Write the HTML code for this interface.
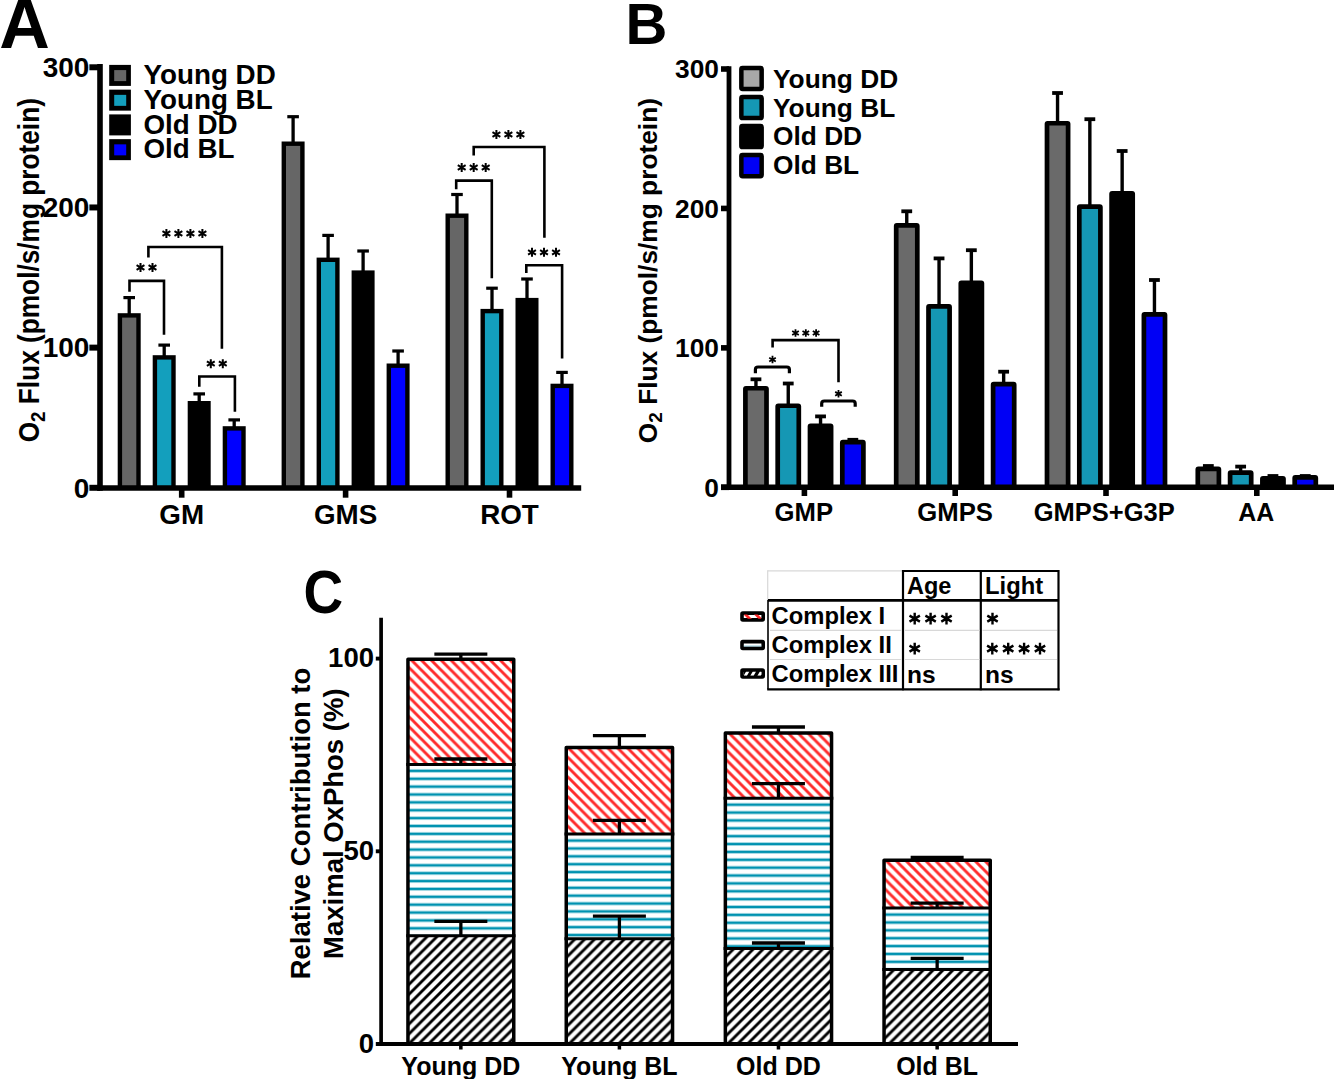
<!DOCTYPE html><html><head><meta charset="utf-8"><style>html,body{margin:0;padding:0;background:#fff;}svg{display:block;}</style></head><body>
<svg width="1340" height="1079" viewBox="0 0 1340 1079">
<defs>
<g id="sA"><path d="M0,-4.45V4.45M-3.93,-2.27L3.93,2.27M-3.93,2.27L3.93,-2.27" stroke="#000" stroke-width="2.0" fill="none"/><circle r="1.20" fill="#000"/></g>
<g id="sB"><path d="M0,-3.75V3.75M-3.31,-1.91L3.31,1.91M-3.31,1.91L3.31,-1.91" stroke="#000" stroke-width="1.8" fill="none"/><circle r="1.08" fill="#000"/></g>
<g id="sT"><path d="M0,-5.9V5.9M-5.21,-3.01L5.21,3.01M-5.21,3.01L5.21,-3.01" stroke="#000" stroke-width="2.4" fill="none"/><circle r="1.44" fill="#000"/></g>
<pattern id="pRed0" patternUnits="userSpaceOnUse" width="9.85" height="9.85" patternTransform="translate(-2.4,0)"><path d="M-2,-2L11.85,11.85M-2,7.85L2,11.85M7.85,-2L11.85,2" stroke="#ff2b2b" stroke-width="2.9"/></pattern>
<pattern id="pRed1" patternUnits="userSpaceOnUse" width="9.85" height="9.85" patternTransform="translate(-2.3,0)"><path d="M-2,-2L11.85,11.85M-2,7.85L2,11.85M7.85,-2L11.85,2" stroke="#ff2b2b" stroke-width="2.9"/></pattern>
<pattern id="pRed2" patternUnits="userSpaceOnUse" width="9.85" height="9.85" patternTransform="translate(-4.0,0)"><path d="M-2,-2L11.85,11.85M-2,7.85L2,11.85M7.85,-2L11.85,2" stroke="#ff2b2b" stroke-width="2.9"/></pattern>
<pattern id="pRed3" patternUnits="userSpaceOnUse" width="9.85" height="9.85" patternTransform="translate(-4.0,0)"><path d="M-2,-2L11.85,11.85M-2,7.85L2,11.85M7.85,-2L11.85,2" stroke="#ff2b2b" stroke-width="2.9"/></pattern>
<pattern id="pTeal0" patternUnits="userSpaceOnUse" width="20" height="7.87" patternTransform="translate(0,766.965)"><rect x="0" y="2.585" width="20" height="2.7" fill="#0092b0"/></pattern>
<pattern id="pTeal1" patternUnits="userSpaceOnUse" width="20" height="7.87" patternTransform="translate(0,836.665)"><rect x="0" y="2.585" width="20" height="2.7" fill="#0092b0"/></pattern>
<pattern id="pTeal2" patternUnits="userSpaceOnUse" width="20" height="7.87" patternTransform="translate(0,800.765)"><rect x="0" y="2.585" width="20" height="2.7" fill="#0092b0"/></pattern>
<pattern id="pTeal3" patternUnits="userSpaceOnUse" width="20" height="7.87" patternTransform="translate(0,910.665)"><rect x="0" y="2.585" width="20" height="2.7" fill="#0092b0"/></pattern>
<pattern id="pBlk0" patternUnits="userSpaceOnUse" width="9.9" height="9.9" patternTransform="translate(-2.5,0)"><path d="M-2,11.9L11.9,-2M-2,2L2,-2M7.9,11.9L11.9,7.9" stroke="#000" stroke-width="2.85"/></pattern>
<pattern id="pBlk1" patternUnits="userSpaceOnUse" width="9.9" height="9.9" patternTransform="translate(-0.7,0)"><path d="M-2,11.9L11.9,-2M-2,2L2,-2M7.9,11.9L11.9,7.9" stroke="#000" stroke-width="2.85"/></pattern>
<pattern id="pBlk2" patternUnits="userSpaceOnUse" width="9.9" height="9.9" patternTransform="translate(-0.4,0)"><path d="M-2,11.9L11.9,-2M-2,2L2,-2M7.9,11.9L11.9,7.9" stroke="#000" stroke-width="2.85"/></pattern>
<pattern id="pBlk3" patternUnits="userSpaceOnUse" width="9.9" height="9.9" patternTransform="translate(2.5,0)"><path d="M-2,11.9L11.9,-2M-2,2L2,-2M7.9,11.9L11.9,7.9" stroke="#000" stroke-width="2.85"/></pattern>
</defs>
<rect width="1340" height="1079" fill="#fff"/>
<text x="-0.7" y="48" font-family="Liberation Sans" font-weight="bold" font-size="70" text-anchor="start" >A</text>
<line x1="129.2" y1="297.6" x2="129.2" y2="314.2" stroke="#000" stroke-width="3.3" stroke-linecap="butt"/>
<line x1="123.39999999999999" y1="297.6" x2="135.0" y2="297.6" stroke="#000" stroke-width="3.2" stroke-linecap="butt"/>
<rect x="117.70" y="313.20" width="23.00" height="174.80" fill="#000" />
<rect x="122.10" y="317.60" width="14.20" height="170.40" fill="#666666" />
<line x1="164.2" y1="345.1" x2="164.2" y2="356.2" stroke="#000" stroke-width="3.3" stroke-linecap="butt"/>
<line x1="158.39999999999998" y1="345.1" x2="170.0" y2="345.1" stroke="#000" stroke-width="3.2" stroke-linecap="butt"/>
<rect x="152.70" y="355.20" width="23.00" height="132.80" fill="#000" />
<rect x="157.10" y="359.60" width="14.20" height="128.40" fill="#139fbd" />
<line x1="199.2" y1="393.9" x2="199.2" y2="402.0" stroke="#000" stroke-width="3.3" stroke-linecap="butt"/>
<line x1="193.39999999999998" y1="393.9" x2="205.0" y2="393.9" stroke="#000" stroke-width="3.2" stroke-linecap="butt"/>
<rect x="187.70" y="401.00" width="23.00" height="87.00" fill="#000" />
<line x1="234.2" y1="419.9" x2="234.2" y2="427.2" stroke="#000" stroke-width="3.3" stroke-linecap="butt"/>
<line x1="228.39999999999998" y1="419.9" x2="240.0" y2="419.9" stroke="#000" stroke-width="3.2" stroke-linecap="butt"/>
<rect x="222.70" y="426.20" width="23.00" height="61.80" fill="#000" />
<rect x="227.10" y="430.60" width="14.20" height="57.40" fill="#0000ff" />
<line x1="293.1" y1="116.7" x2="293.1" y2="142.5" stroke="#000" stroke-width="3.3" stroke-linecap="butt"/>
<line x1="287.3" y1="116.7" x2="298.90000000000003" y2="116.7" stroke="#000" stroke-width="3.2" stroke-linecap="butt"/>
<rect x="281.60" y="141.50" width="23.00" height="346.50" fill="#000" />
<rect x="286.00" y="145.90" width="14.20" height="342.10" fill="#666666" />
<line x1="328.1" y1="235.4" x2="328.1" y2="258.6" stroke="#000" stroke-width="3.3" stroke-linecap="butt"/>
<line x1="322.3" y1="235.4" x2="333.90000000000003" y2="235.4" stroke="#000" stroke-width="3.2" stroke-linecap="butt"/>
<rect x="316.60" y="257.60" width="23.00" height="230.40" fill="#000" />
<rect x="321.00" y="262.00" width="14.20" height="226.00" fill="#139fbd" />
<line x1="363.1" y1="251.0" x2="363.1" y2="271.4" stroke="#000" stroke-width="3.3" stroke-linecap="butt"/>
<line x1="357.3" y1="251.0" x2="368.90000000000003" y2="251.0" stroke="#000" stroke-width="3.2" stroke-linecap="butt"/>
<rect x="351.60" y="270.40" width="23.00" height="217.60" fill="#000" />
<line x1="398.1" y1="351.0" x2="398.1" y2="364.5" stroke="#000" stroke-width="3.3" stroke-linecap="butt"/>
<line x1="392.3" y1="351.0" x2="403.90000000000003" y2="351.0" stroke="#000" stroke-width="3.2" stroke-linecap="butt"/>
<rect x="386.60" y="363.50" width="23.00" height="124.50" fill="#000" />
<rect x="391.00" y="367.90" width="14.20" height="120.10" fill="#0000ff" />
<line x1="457.0" y1="194.5" x2="457.0" y2="214.5" stroke="#000" stroke-width="3.3" stroke-linecap="butt"/>
<line x1="451.2" y1="194.5" x2="462.8" y2="194.5" stroke="#000" stroke-width="3.2" stroke-linecap="butt"/>
<rect x="445.50" y="213.50" width="23.00" height="274.50" fill="#000" />
<rect x="449.90" y="217.90" width="14.20" height="270.10" fill="#666666" />
<line x1="492.0" y1="288.2" x2="492.0" y2="309.9" stroke="#000" stroke-width="3.3" stroke-linecap="butt"/>
<line x1="486.2" y1="288.2" x2="497.8" y2="288.2" stroke="#000" stroke-width="3.2" stroke-linecap="butt"/>
<rect x="480.50" y="308.90" width="23.00" height="179.10" fill="#000" />
<rect x="484.90" y="313.30" width="14.20" height="174.70" fill="#139fbd" />
<line x1="527.0" y1="279.0" x2="527.0" y2="298.9" stroke="#000" stroke-width="3.3" stroke-linecap="butt"/>
<line x1="521.2" y1="279.0" x2="532.8" y2="279.0" stroke="#000" stroke-width="3.2" stroke-linecap="butt"/>
<rect x="515.50" y="297.90" width="23.00" height="190.10" fill="#000" />
<line x1="562.0" y1="372.4" x2="562.0" y2="384.7" stroke="#000" stroke-width="3.3" stroke-linecap="butt"/>
<line x1="556.2" y1="372.4" x2="567.8" y2="372.4" stroke="#000" stroke-width="3.2" stroke-linecap="butt"/>
<rect x="550.50" y="383.70" width="23.00" height="104.30" fill="#000" />
<rect x="554.90" y="388.10" width="14.20" height="99.90" fill="#0000ff" />
<line x1="100" y1="64.1" x2="100" y2="490.7" stroke="#000" stroke-width="5.6" stroke-linecap="butt"/>
<line x1="97.2" y1="488" x2="581.2" y2="488" stroke="#000" stroke-width="5.4" stroke-linecap="butt"/>
<line x1="89.4" y1="67.29000000000002" x2="100" y2="67.29000000000002" stroke="#000" stroke-width="6" stroke-linecap="butt"/>
<text x="89.45" y="76.99000000000002" font-family="Liberation Sans" font-weight="bold" font-size="28" text-anchor="end" >300</text>
<line x1="89.4" y1="207.46000000000004" x2="100" y2="207.46000000000004" stroke="#000" stroke-width="6" stroke-linecap="butt"/>
<text x="89.45" y="217.16000000000003" font-family="Liberation Sans" font-weight="bold" font-size="28" text-anchor="end" >200</text>
<line x1="89.4" y1="347.63" x2="100" y2="347.63" stroke="#000" stroke-width="6" stroke-linecap="butt"/>
<text x="89.45" y="357.33" font-family="Liberation Sans" font-weight="bold" font-size="28" text-anchor="end" >100</text>
<line x1="89.4" y1="487.8" x2="100" y2="487.8" stroke="#000" stroke-width="6" stroke-linecap="butt"/>
<text x="89.45" y="497.5" font-family="Liberation Sans" font-weight="bold" font-size="28" text-anchor="end" >0</text>
<line x1="181.7" y1="488" x2="181.7" y2="497.7" stroke="#000" stroke-width="5.6" stroke-linecap="butt"/>
<text x="181.7" y="523.7" font-family="Liberation Sans" font-weight="bold" font-size="27.8" text-anchor="middle" >GM</text>
<line x1="345.6" y1="488" x2="345.6" y2="497.7" stroke="#000" stroke-width="5.6" stroke-linecap="butt"/>
<text x="345.6" y="523.7" font-family="Liberation Sans" font-weight="bold" font-size="27.8" text-anchor="middle" >GMS</text>
<line x1="509.5" y1="488" x2="509.5" y2="497.7" stroke="#000" stroke-width="5.6" stroke-linecap="butt"/>
<text x="509.5" y="523.7" font-family="Liberation Sans" font-weight="bold" font-size="27.8" text-anchor="middle" >ROT</text>
<rect x="109.20" y="64.90" width="21.70" height="21.00" fill="#000" />
<rect x="114.20" y="70.10" width="12.00" height="11.00" fill="#666666" />
<text x="143.5" y="84.1" font-family="Liberation Sans" font-weight="bold" font-size="27.8" text-anchor="start" >Young DD</text>
<rect x="109.20" y="89.65" width="21.70" height="21.00" fill="#000" />
<rect x="114.20" y="94.85" width="12.00" height="11.00" fill="#139fbd" />
<text x="143.5" y="108.85" font-family="Liberation Sans" font-weight="bold" font-size="27.8" text-anchor="start" >Young BL</text>
<rect x="109.20" y="114.40" width="21.70" height="21.00" fill="#000" />
<text x="143.5" y="133.6" font-family="Liberation Sans" font-weight="bold" font-size="27.8" text-anchor="start" >Old DD</text>
<rect x="109.20" y="139.15" width="21.70" height="21.00" fill="#000" />
<rect x="114.20" y="144.35" width="12.00" height="11.00" fill="#0000ff" />
<text x="143.5" y="158.35" font-family="Liberation Sans" font-weight="bold" font-size="27.8" text-anchor="start" >Old BL</text>
<text transform="translate(38.8,270.2) rotate(-90) scale(0.89,1)" font-family="Liberation Sans" font-weight="bold" font-size="29.5" text-anchor="middle">O<tspan font-size="21" dy="5.7">2</tspan><tspan dy="-5.7"> Flux (pmol/s/mg protein)</tspan></text>
<path d="M129.5,291.7V280.9H164.0V334.8" fill="none" stroke="#000" stroke-width="2.6" stroke-linejoin="miter"/>
<use href="#sA" x="140.50" y="267.50"/>
<use href="#sA" x="152.50" y="267.50"/>
<path d="M148.4,257.6V247.0H221.9V348.8" fill="none" stroke="#000" stroke-width="2.6" stroke-linejoin="miter"/>
<use href="#sA" x="166.40" y="233.50"/>
<use href="#sA" x="178.40" y="233.50"/>
<use href="#sA" x="190.40" y="233.50"/>
<use href="#sA" x="202.40" y="233.50"/>
<path d="M199.3,386.7V376.5H234.9V411.7" fill="none" stroke="#000" stroke-width="2.6" stroke-linejoin="miter"/>
<use href="#sA" x="210.80" y="363.70"/>
<use href="#sA" x="222.80" y="363.70"/>
<path d="M456.2,189.2V180.6H491.8V278.3" fill="none" stroke="#000" stroke-width="2.6" stroke-linejoin="miter"/>
<use href="#sA" x="461.70" y="167.50"/>
<use href="#sA" x="473.70" y="167.50"/>
<use href="#sA" x="485.70" y="167.50"/>
<path d="M473.7,155.4V147.0H544.4V237.8" fill="none" stroke="#000" stroke-width="2.6" stroke-linejoin="miter"/>
<use href="#sA" x="496.40" y="134.50"/>
<use href="#sA" x="508.40" y="134.50"/>
<use href="#sA" x="520.40" y="134.50"/>
<path d="M526.3,273.0V265.2H562.1V358.6" fill="none" stroke="#000" stroke-width="2.6" stroke-linejoin="miter"/>
<use href="#sA" x="532.00" y="252.30"/>
<use href="#sA" x="544.00" y="252.30"/>
<use href="#sA" x="556.00" y="252.30"/>
<text x="625.5" y="44.3" font-family="Liberation Sans" font-weight="bold" font-size="58" text-anchor="start" >B</text>
<line x1="755.9499999999999" y1="379.3" x2="755.9499999999999" y2="386.9" stroke="#000" stroke-width="3.4" stroke-linecap="butt"/>
<line x1="750.55" y1="379.3" x2="761.3499999999999" y2="379.3" stroke="#000" stroke-width="3.8" stroke-linecap="butt"/>
<rect x="745.40" y="388.25" width="21.10" height="99.05" rx="0.6" fill="#6a6a6a" stroke="#000" stroke-width="4.7" stroke-linejoin="round"/>
<line x1="788.25" y1="383.5" x2="788.25" y2="404.4" stroke="#000" stroke-width="3.4" stroke-linecap="butt"/>
<line x1="782.85" y1="383.5" x2="793.65" y2="383.5" stroke="#000" stroke-width="3.8" stroke-linecap="butt"/>
<rect x="777.70" y="405.75" width="21.10" height="81.55" rx="0.6" fill="#1597b4" stroke="#000" stroke-width="4.7" stroke-linejoin="round"/>
<line x1="820.55" y1="416.4" x2="820.55" y2="424.4" stroke="#000" stroke-width="3.4" stroke-linecap="butt"/>
<line x1="815.15" y1="416.4" x2="825.9499999999999" y2="416.4" stroke="#000" stroke-width="3.8" stroke-linecap="butt"/>
<rect x="810.00" y="425.75" width="21.10" height="61.55" rx="0.6" fill="#000" stroke="#000" stroke-width="4.7" stroke-linejoin="round"/>
<line x1="847.45" y1="439.8" x2="858.25" y2="439.8" stroke="#000" stroke-width="3.8" stroke-linecap="butt"/>
<rect x="842.30" y="442.15" width="21.10" height="45.15" rx="0.6" fill="#0000f5" stroke="#000" stroke-width="4.7" stroke-linejoin="round"/>
<line x1="906.75" y1="211.3" x2="906.75" y2="224.0" stroke="#000" stroke-width="3.4" stroke-linecap="butt"/>
<line x1="901.35" y1="211.3" x2="912.15" y2="211.3" stroke="#000" stroke-width="3.8" stroke-linecap="butt"/>
<rect x="896.20" y="225.35" width="21.10" height="261.95" rx="0.6" fill="#6a6a6a" stroke="#000" stroke-width="4.7" stroke-linejoin="round"/>
<line x1="939.0500000000001" y1="258.4" x2="939.0500000000001" y2="305.0" stroke="#000" stroke-width="3.4" stroke-linecap="butt"/>
<line x1="933.6500000000001" y1="258.4" x2="944.45" y2="258.4" stroke="#000" stroke-width="3.8" stroke-linecap="butt"/>
<rect x="928.50" y="306.35" width="21.10" height="180.95" rx="0.6" fill="#1597b4" stroke="#000" stroke-width="4.7" stroke-linejoin="round"/>
<line x1="971.35" y1="250.2" x2="971.35" y2="281.4" stroke="#000" stroke-width="3.4" stroke-linecap="butt"/>
<line x1="965.95" y1="250.2" x2="976.75" y2="250.2" stroke="#000" stroke-width="3.8" stroke-linecap="butt"/>
<rect x="960.80" y="282.75" width="21.10" height="204.55" rx="0.6" fill="#000" stroke="#000" stroke-width="4.7" stroke-linejoin="round"/>
<line x1="1003.6500000000001" y1="371.7" x2="1003.6500000000001" y2="382.7" stroke="#000" stroke-width="3.4" stroke-linecap="butt"/>
<line x1="998.2500000000001" y1="371.7" x2="1009.0500000000001" y2="371.7" stroke="#000" stroke-width="3.8" stroke-linecap="butt"/>
<rect x="993.10" y="384.05" width="21.10" height="103.25" rx="0.6" fill="#0000f5" stroke="#000" stroke-width="4.7" stroke-linejoin="round"/>
<line x1="1057.55" y1="93.0" x2="1057.55" y2="121.9" stroke="#000" stroke-width="3.4" stroke-linecap="butt"/>
<line x1="1052.1499999999999" y1="93.0" x2="1062.95" y2="93.0" stroke="#000" stroke-width="3.8" stroke-linecap="butt"/>
<rect x="1047.00" y="123.25" width="21.10" height="364.05" rx="0.6" fill="#6a6a6a" stroke="#000" stroke-width="4.7" stroke-linejoin="round"/>
<line x1="1089.85" y1="119.2" x2="1089.85" y2="205.3" stroke="#000" stroke-width="3.4" stroke-linecap="butt"/>
<line x1="1084.4499999999998" y1="119.2" x2="1095.25" y2="119.2" stroke="#000" stroke-width="3.8" stroke-linecap="butt"/>
<rect x="1079.30" y="206.65" width="21.10" height="280.65" rx="0.6" fill="#1597b4" stroke="#000" stroke-width="4.7" stroke-linejoin="round"/>
<line x1="1122.15" y1="151.0" x2="1122.15" y2="191.9" stroke="#000" stroke-width="3.4" stroke-linecap="butt"/>
<line x1="1116.75" y1="151.0" x2="1127.5500000000002" y2="151.0" stroke="#000" stroke-width="3.8" stroke-linecap="butt"/>
<rect x="1111.60" y="193.25" width="21.10" height="294.05" rx="0.6" fill="#000" stroke="#000" stroke-width="4.7" stroke-linejoin="round"/>
<line x1="1154.45" y1="280.0" x2="1154.45" y2="313.0" stroke="#000" stroke-width="3.4" stroke-linecap="butt"/>
<line x1="1149.05" y1="280.0" x2="1159.8500000000001" y2="280.0" stroke="#000" stroke-width="3.8" stroke-linecap="butt"/>
<rect x="1143.90" y="314.35" width="21.10" height="172.95" rx="0.6" fill="#0000f5" stroke="#000" stroke-width="4.7" stroke-linejoin="round"/>
<line x1="1202.9499999999998" y1="466.0" x2="1213.75" y2="466.0" stroke="#000" stroke-width="3.8" stroke-linecap="butt"/>
<rect x="1197.80" y="468.95" width="21.10" height="18.35" rx="0.6" fill="#6a6a6a" stroke="#000" stroke-width="4.7" stroke-linejoin="round"/>
<line x1="1240.6499999999999" y1="466.6" x2="1240.6499999999999" y2="471.3" stroke="#000" stroke-width="3.4" stroke-linecap="butt"/>
<line x1="1235.2499999999998" y1="466.6" x2="1246.05" y2="466.6" stroke="#000" stroke-width="3.8" stroke-linecap="butt"/>
<rect x="1230.10" y="472.65" width="21.10" height="14.65" rx="0.6" fill="#1597b4" stroke="#000" stroke-width="4.7" stroke-linejoin="round"/>
<line x1="1267.55" y1="476.0" x2="1278.3500000000001" y2="476.0" stroke="#000" stroke-width="3.8" stroke-linecap="butt"/>
<rect x="1262.40" y="478.25" width="21.10" height="9.05" rx="0.6" fill="#000" stroke="#000" stroke-width="4.7" stroke-linejoin="round"/>
<line x1="1299.85" y1="476.0" x2="1310.65" y2="476.0" stroke="#000" stroke-width="3.8" stroke-linecap="butt"/>
<rect x="1294.70" y="477.35" width="21.10" height="9.95" rx="0.6" fill="#0000f5" stroke="#000" stroke-width="4.7" stroke-linejoin="round"/>
<line x1="729" y1="66.2" x2="729" y2="490.0" stroke="#000" stroke-width="4.8" stroke-linecap="butt"/>
<line x1="721" y1="487.3" x2="1334" y2="487.3" stroke="#000" stroke-width="5.4" stroke-linecap="butt"/>
<line x1="721" y1="69.00999999999999" x2="729" y2="69.00999999999999" stroke="#000" stroke-width="5.6" stroke-linecap="butt"/>
<text x="718.9" y="78.21" font-family="Liberation Sans" font-weight="bold" font-size="26.3" text-anchor="end" >300</text>
<line x1="721" y1="208.44" x2="729" y2="208.44" stroke="#000" stroke-width="5.6" stroke-linecap="butt"/>
<text x="718.9" y="217.64" font-family="Liberation Sans" font-weight="bold" font-size="26.3" text-anchor="end" >200</text>
<line x1="721" y1="347.87" x2="729" y2="347.87" stroke="#000" stroke-width="5.6" stroke-linecap="butt"/>
<text x="718.9" y="357.07" font-family="Liberation Sans" font-weight="bold" font-size="26.3" text-anchor="end" >100</text>
<line x1="721" y1="487.3" x2="729" y2="487.3" stroke="#000" stroke-width="5.6" stroke-linecap="butt"/>
<text x="718.9" y="496.5" font-family="Liberation Sans" font-weight="bold" font-size="26.3" text-anchor="end" >0</text>
<line x1="804.4" y1="487.3" x2="804.4" y2="496" stroke="#000" stroke-width="5.6" stroke-linecap="butt"/>
<text x="803.8" y="521.3" font-family="Liberation Sans" font-weight="bold" font-size="25.7" text-anchor="middle" >GMP</text>
<line x1="955.2" y1="487.3" x2="955.2" y2="496" stroke="#000" stroke-width="5.6" stroke-linecap="butt"/>
<text x="955.2" y="521.3" font-family="Liberation Sans" font-weight="bold" font-size="25.7" text-anchor="middle" >GMPS</text>
<line x1="1106.0" y1="487.3" x2="1106.0" y2="496" stroke="#000" stroke-width="5.6" stroke-linecap="butt"/>
<text x="1104.3" y="521.3" font-family="Liberation Sans" font-weight="bold" font-size="25.5" text-anchor="middle" >GMPS+G3P</text>
<line x1="1256.8" y1="487.3" x2="1256.8" y2="496" stroke="#000" stroke-width="5.6" stroke-linecap="butt"/>
<text x="1256.3" y="521.3" font-family="Liberation Sans" font-weight="bold" font-size="24.9" text-anchor="middle" >AA</text>
<rect x="741.35" y="67.95" width="20.30" height="21.10" rx="1.2" fill="#a8a8a8" stroke="#000" stroke-width="4.5" stroke-linejoin="round"/>
<text x="773.0" y="87.9" font-family="Liberation Sans" font-weight="bold" font-size="26.3" text-anchor="start" >Young DD</text>
<rect x="741.35" y="96.98" width="20.30" height="21.10" rx="1.2" fill="#1597b4" stroke="#000" stroke-width="4.5" stroke-linejoin="round"/>
<text x="773.0" y="116.57000000000001" font-family="Liberation Sans" font-weight="bold" font-size="26.3" text-anchor="start" >Young BL</text>
<rect x="741.35" y="126.01" width="20.30" height="21.10" rx="1.2" fill="#000" stroke="#000" stroke-width="4.5" stroke-linejoin="round"/>
<text x="773.0" y="145.24" font-family="Liberation Sans" font-weight="bold" font-size="26.3" text-anchor="start" >Old DD</text>
<rect x="741.35" y="155.04" width="20.30" height="21.10" rx="1.2" fill="#0000f5" stroke="#000" stroke-width="4.5" stroke-linejoin="round"/>
<text x="773.0" y="173.91000000000003" font-family="Liberation Sans" font-weight="bold" font-size="26.3" text-anchor="start" >Old BL</text>
<text transform="translate(656.5,270.6) rotate(-90)" font-family="Liberation Sans" font-weight="bold" font-size="26.3" text-anchor="middle">O<tspan font-size="19" dy="5.5">2</tspan><tspan dy="-5.5"> Flux (pmol/s/mg protein)</tspan></text>
<path d="M755.4,373.3V369.60Q755.4,367.0 758.00,367.0H786.80Q789.4,367.0 789.4,369.60V373.3" fill="none" stroke="#000" stroke-width="3.2"/>
<use href="#sB" x="772.50" y="359.60"/>
<path d="M772.6,347.5V340.1H838.5V382.2" fill="none" stroke="#000" stroke-width="2.6" stroke-linejoin="miter"/>
<use href="#sB" x="795.50" y="333.00"/>
<use href="#sB" x="805.80" y="333.00"/>
<use href="#sB" x="816.10" y="333.00"/>
<path d="M821.7,406.7V403.60Q821.7,401.0 824.30,401.0H852.60Q855.2,401.0 855.2,403.60V406.7" fill="none" stroke="#000" stroke-width="3.2"/>
<use href="#sB" x="838.50" y="393.80"/>
<text transform="translate(303.6,612.6) scale(0.9,1)" font-family="Liberation Sans" font-weight="bold" font-size="61">C</text>
<rect x="407.70" y="659.30" width="106.30" height="105.10" fill="url(#pRed0)" />
<rect x="407.70" y="764.40" width="106.30" height="171.40" fill="url(#pTeal0)" />
<rect x="407.70" y="935.80" width="106.30" height="108.20" fill="url(#pBlk0)" />
<rect x="407.95" y="659.30" width="105.80" height="384.70" fill="none" stroke="#000" stroke-width="3.5" stroke-linejoin="round"/>
<line x1="406.2" y1="764.4" x2="515.5" y2="764.4" stroke="#000" stroke-width="3.0" stroke-linecap="butt"/>
<line x1="406.2" y1="935.8" x2="515.5" y2="935.8" stroke="#000" stroke-width="3.0" stroke-linecap="butt"/>
<line x1="460.85" y1="654.2" x2="460.85" y2="659.3" stroke="#000" stroke-width="3.3" stroke-linecap="butt"/>
<line x1="434.35" y1="654.2" x2="487.35" y2="654.2" stroke="#000" stroke-width="3.3" stroke-linecap="butt"/>
<line x1="460.85" y1="759.0" x2="460.85" y2="764.4" stroke="#000" stroke-width="3.3" stroke-linecap="butt"/>
<line x1="434.35" y1="759.0" x2="487.35" y2="759.0" stroke="#000" stroke-width="3.3" stroke-linecap="butt"/>
<line x1="460.85" y1="921.3" x2="460.85" y2="935.8" stroke="#000" stroke-width="3.3" stroke-linecap="butt"/>
<line x1="434.35" y1="921.3" x2="487.35" y2="921.3" stroke="#000" stroke-width="3.3" stroke-linecap="butt"/>
<rect x="566.00" y="747.50" width="106.80" height="86.60" fill="url(#pRed1)" />
<rect x="566.00" y="834.10" width="106.80" height="104.60" fill="url(#pTeal1)" />
<rect x="566.00" y="938.70" width="106.80" height="105.30" fill="url(#pBlk1)" />
<rect x="566.25" y="747.50" width="106.30" height="296.50" fill="none" stroke="#000" stroke-width="3.5" stroke-linejoin="round"/>
<line x1="564.5" y1="834.1" x2="674.3" y2="834.1" stroke="#000" stroke-width="3.0" stroke-linecap="butt"/>
<line x1="564.5" y1="938.7" x2="674.3" y2="938.7" stroke="#000" stroke-width="3.0" stroke-linecap="butt"/>
<line x1="619.4" y1="735.6" x2="619.4" y2="747.5" stroke="#000" stroke-width="3.3" stroke-linecap="butt"/>
<line x1="592.9" y1="735.6" x2="645.9" y2="735.6" stroke="#000" stroke-width="3.3" stroke-linecap="butt"/>
<line x1="619.4" y1="820.3" x2="619.4" y2="834.1" stroke="#000" stroke-width="3.3" stroke-linecap="butt"/>
<line x1="592.9" y1="820.3" x2="645.9" y2="820.3" stroke="#000" stroke-width="3.3" stroke-linecap="butt"/>
<line x1="619.4" y1="916.2" x2="619.4" y2="938.7" stroke="#000" stroke-width="3.3" stroke-linecap="butt"/>
<line x1="592.9" y1="916.2" x2="645.9" y2="916.2" stroke="#000" stroke-width="3.3" stroke-linecap="butt"/>
<rect x="725.10" y="732.90" width="106.70" height="65.30" fill="url(#pRed2)" />
<rect x="725.10" y="798.20" width="106.70" height="150.20" fill="url(#pTeal2)" />
<rect x="725.10" y="948.40" width="106.70" height="95.60" fill="url(#pBlk2)" />
<rect x="725.35" y="732.90" width="106.20" height="311.10" fill="none" stroke="#000" stroke-width="3.5" stroke-linejoin="round"/>
<line x1="723.6" y1="798.2" x2="833.3" y2="798.2" stroke="#000" stroke-width="3.0" stroke-linecap="butt"/>
<line x1="723.6" y1="948.4" x2="833.3" y2="948.4" stroke="#000" stroke-width="3.0" stroke-linecap="butt"/>
<line x1="778.45" y1="727.0" x2="778.45" y2="732.9" stroke="#000" stroke-width="3.3" stroke-linecap="butt"/>
<line x1="751.95" y1="727.0" x2="804.95" y2="727.0" stroke="#000" stroke-width="3.3" stroke-linecap="butt"/>
<line x1="778.45" y1="783.7" x2="778.45" y2="798.2" stroke="#000" stroke-width="3.3" stroke-linecap="butt"/>
<line x1="751.95" y1="783.7" x2="804.95" y2="783.7" stroke="#000" stroke-width="3.3" stroke-linecap="butt"/>
<line x1="778.45" y1="943.0" x2="778.45" y2="948.4" stroke="#000" stroke-width="3.3" stroke-linecap="butt"/>
<line x1="751.95" y1="943.0" x2="804.95" y2="943.0" stroke="#000" stroke-width="3.3" stroke-linecap="butt"/>
<rect x="883.80" y="860.30" width="106.70" height="47.80" fill="url(#pRed3)" />
<rect x="883.80" y="908.10" width="106.70" height="61.30" fill="url(#pTeal3)" />
<rect x="883.80" y="969.40" width="106.70" height="74.60" fill="url(#pBlk3)" />
<rect x="884.05" y="860.30" width="106.20" height="183.70" fill="none" stroke="#000" stroke-width="3.5" stroke-linejoin="round"/>
<line x1="882.3" y1="908.1" x2="992.0" y2="908.1" stroke="#000" stroke-width="3.0" stroke-linecap="butt"/>
<line x1="882.3" y1="969.4" x2="992.0" y2="969.4" stroke="#000" stroke-width="3.0" stroke-linecap="butt"/>
<line x1="937.15" y1="857.5" x2="937.15" y2="860.3" stroke="#000" stroke-width="3.3" stroke-linecap="butt"/>
<line x1="910.65" y1="857.5" x2="963.65" y2="857.5" stroke="#000" stroke-width="3.3" stroke-linecap="butt"/>
<line x1="937.15" y1="903.2" x2="937.15" y2="908.1" stroke="#000" stroke-width="3.3" stroke-linecap="butt"/>
<line x1="910.65" y1="903.2" x2="963.65" y2="903.2" stroke="#000" stroke-width="3.3" stroke-linecap="butt"/>
<line x1="937.15" y1="958.3" x2="937.15" y2="969.4" stroke="#000" stroke-width="3.3" stroke-linecap="butt"/>
<line x1="910.65" y1="958.3" x2="963.65" y2="958.3" stroke="#000" stroke-width="3.3" stroke-linecap="butt"/>
<line x1="381.1" y1="617.7" x2="381.1" y2="1046" stroke="#000" stroke-width="3.7" stroke-linecap="butt"/>
<line x1="376.2" y1="1044" x2="1018" y2="1044" stroke="#000" stroke-width="4.0" stroke-linecap="butt"/>
<line x1="375.8" y1="658.5999999999999" x2="381.1" y2="658.5999999999999" stroke="#000" stroke-width="3.9" stroke-linecap="butt"/>
<text x="374.0" y="667.3" font-family="Liberation Sans" font-weight="bold" font-size="27.5" text-anchor="end" >100</text>
<line x1="375.8" y1="851.3" x2="381.1" y2="851.3" stroke="#000" stroke-width="3.9" stroke-linecap="butt"/>
<text x="374.0" y="860.0" font-family="Liberation Sans" font-weight="bold" font-size="27.5" text-anchor="end" >50</text>
<line x1="375.8" y1="1044.0" x2="381.1" y2="1044.0" stroke="#000" stroke-width="3.9" stroke-linecap="butt"/>
<text x="374.0" y="1052.7" font-family="Liberation Sans" font-weight="bold" font-size="27.5" text-anchor="end" >0</text>
<line x1="460.85" y1="1044" x2="460.85" y2="1049.5" stroke="#000" stroke-width="3.5" stroke-linecap="butt"/>
<text x="460.85" y="1074.5" font-family="Liberation Sans" font-weight="bold" font-size="25" text-anchor="middle" >Young DD</text>
<line x1="619.4" y1="1044" x2="619.4" y2="1049.5" stroke="#000" stroke-width="3.5" stroke-linecap="butt"/>
<text x="619.4" y="1074.5" font-family="Liberation Sans" font-weight="bold" font-size="25" text-anchor="middle" >Young BL</text>
<line x1="778.45" y1="1044" x2="778.45" y2="1049.5" stroke="#000" stroke-width="3.5" stroke-linecap="butt"/>
<text x="778.45" y="1074.5" font-family="Liberation Sans" font-weight="bold" font-size="25" text-anchor="middle" >Old DD</text>
<line x1="937.15" y1="1044" x2="937.15" y2="1049.5" stroke="#000" stroke-width="3.5" stroke-linecap="butt"/>
<text x="937.15" y="1074.5" font-family="Liberation Sans" font-weight="bold" font-size="25" text-anchor="middle" >Old BL</text>
<text transform="translate(310.2,823.5) rotate(-90)" font-family="Liberation Sans" font-weight="bold" font-size="27.5" text-anchor="middle">Relative Contribution to</text>
<text transform="translate(343.1,823.7) rotate(-90)" font-family="Liberation Sans" font-weight="bold" font-size="27.5" text-anchor="middle">Maximal OxPhos (%)</text>
<line x1="767.7" y1="570.8" x2="903" y2="570.8" stroke="#d8d8d8" stroke-width="1.2" stroke-linecap="butt"/>
<line x1="767.7" y1="570.3" x2="767.7" y2="600.4" stroke="#d8d8d8" stroke-width="1.2" stroke-linecap="butt"/>
<line x1="903" y1="571" x2="1058.5" y2="571" stroke="#000" stroke-width="2.2" stroke-linecap="butt"/>
<line x1="768" y1="600.4" x2="1058.5" y2="600.4" stroke="#000" stroke-width="2.6" stroke-linecap="butt"/>
<line x1="768" y1="600" x2="768" y2="689.3" stroke="#000" stroke-width="1.6" stroke-linecap="butt"/>
<line x1="903" y1="570" x2="903" y2="690.3" stroke="#000" stroke-width="2.2" stroke-linecap="butt"/>
<line x1="980.8" y1="570" x2="980.8" y2="690.3" stroke="#000" stroke-width="2.2" stroke-linecap="butt"/>
<line x1="1058.5" y1="570" x2="1058.5" y2="690.3" stroke="#000" stroke-width="2.2" stroke-linecap="butt"/>
<line x1="767.2" y1="689.3" x2="1059.6" y2="689.3" stroke="#000" stroke-width="2.2" stroke-linecap="butt"/>
<line x1="770" y1="630.3" x2="901.5" y2="630.3" stroke="#d8d8d8" stroke-width="1.2" stroke-linecap="butt"/>
<line x1="905" y1="630.3" x2="979.5" y2="630.3" stroke="#d8d8d8" stroke-width="1.2" stroke-linecap="butt"/>
<line x1="982.5" y1="630.3" x2="1057" y2="630.3" stroke="#d8d8d8" stroke-width="1.2" stroke-linecap="butt"/>
<line x1="770" y1="659.5" x2="901.5" y2="659.5" stroke="#d8d8d8" stroke-width="1.2" stroke-linecap="butt"/>
<line x1="905" y1="659.5" x2="979.5" y2="659.5" stroke="#d8d8d8" stroke-width="1.2" stroke-linecap="butt"/>
<line x1="982.5" y1="659.5" x2="1057" y2="659.5" stroke="#d8d8d8" stroke-width="1.2" stroke-linecap="butt"/>
<text x="907.0" y="593.5" font-family="Liberation Sans" font-weight="bold" font-size="23.5" text-anchor="start" >Age</text>
<text x="985.0" y="593.5" font-family="Liberation Sans" font-weight="bold" font-size="23.8" text-anchor="start" >Light</text>
<text x="771.5" y="624.0" font-family="Liberation Sans" font-weight="bold" font-size="23.8" text-anchor="start" >Complex I</text>
<text x="771.5" y="653.2" font-family="Liberation Sans" font-weight="bold" font-size="23.8" text-anchor="start" >Complex II</text>
<text x="771.5" y="682.1" font-family="Liberation Sans" font-weight="bold" font-size="23.8" text-anchor="start" >Complex III</text>
<use href="#sT" x="914.70" y="618.6"/>
<use href="#sT" x="930.60" y="618.6"/>
<use href="#sT" x="946.50" y="618.6"/>
<use href="#sT" x="992.50" y="618.6"/>
<use href="#sT" x="914.70" y="648.6"/>
<use href="#sT" x="992.30" y="648.6"/>
<use href="#sT" x="1008.20" y="648.6"/>
<use href="#sT" x="1024.10" y="648.6"/>
<use href="#sT" x="1040.00" y="648.6"/>
<text x="907.0" y="682.7" font-family="Liberation Sans" font-weight="bold" font-size="24.5" text-anchor="start" >ns</text>
<text x="985.0" y="682.7" font-family="Liberation Sans" font-weight="bold" font-size="24.5" text-anchor="start" >ns</text>
<clipPath id="cb1"><rect x="743.9" y="614.6" width="17.4" height="4.2"/></clipPath>
<clipPath id="cb3"><rect x="743.9" y="671.6" width="17.4" height="4.2"/></clipPath>
<rect x="742.0" y="613.0999999999999" width="21.20" height="6.80" rx="0.8" fill="#fff" stroke="#000" stroke-width="3.6" stroke-linejoin="round"/>
<g clip-path="url(#cb1)">
<line x1="744.5" y1="613.5" x2="751.5" y2="620.5" stroke="#ff2b2b" stroke-width="2.8" stroke-linecap="butt"/>
<line x1="755.0" y1="613.5" x2="762.0" y2="620.5" stroke="#ff2b2b" stroke-width="2.8" stroke-linecap="butt"/>
</g>
<rect x="742.0" y="641.5999999999999" width="21.20" height="6.80" rx="0.8" fill="#fff" stroke="#000" stroke-width="3.6" stroke-linejoin="round"/>
<line x1="743.8000000000001" y1="646.0" x2="761.4" y2="646.0" stroke="#8ccbdc" stroke-width="0.9" stroke-linecap="butt"/>
<rect x="742.0" y="670.0999999999999" width="21.20" height="6.80" rx="0.8" fill="#fff" stroke="#000" stroke-width="3.6" stroke-linejoin="round"/>
<g clip-path="url(#cb3)">
<rect x="743.9" y="671.6" width="17.4" height="4.2" fill="#000"/>
<path d="M743.5999999999999,675.8 L746.0999999999999,671.6 L749.4,671.6 L746.9,675.8Z" fill="#fff"/>
<path d="M750.3,675.8 L752.8,671.6 L756.1,671.6 L753.6,675.8Z" fill="#fff"/>
<path d="M757.4,675.8 L759.9,671.6 L763.2,671.6 L760.7,675.8Z" fill="#fff"/>
</g>
</svg></body></html>
